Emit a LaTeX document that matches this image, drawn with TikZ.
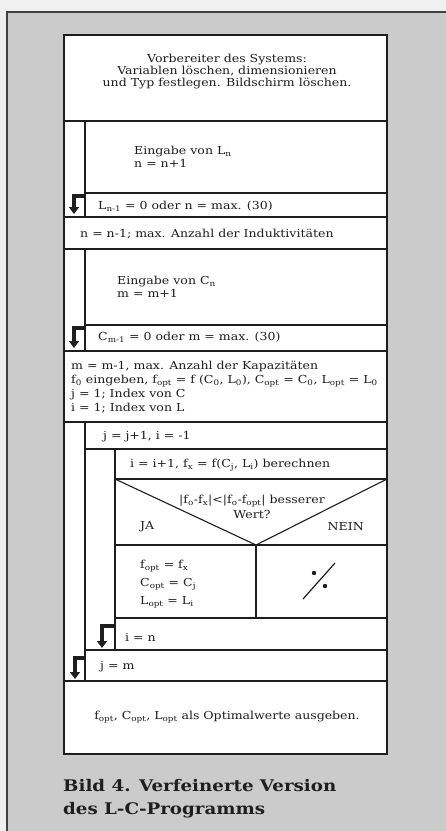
\documentclass[tikz,border=0pt]{standalone}
\usepackage{fontspec}
\setmainfont{DejaVu Serif}[FakeStretch=1.14]
\usetikzlibrary{arrows.meta}
\definecolor{paper}{RGB}{203,203,203}
\definecolor{ink}{RGB}{30,30,30}
\newcommand{\ix}[1]{\textsubscript{#1}}
\tikzset{
  cell/.style={draw=ink, line width=1.1pt},
  txt/.style={anchor=west, inner sep=0pt, text=ink, align=left,
    font=\fontsize{11}{12}\selectfont},
  repeatarrow/.style={draw=ink, line width=3.6pt, -{Triangle[length=7pt,width=10pt]}},
}
\begin{document}
\begin{tikzpicture}[x=1pt,y=-1pt]
  \useasboundingbox (0,0) rectangle (446,831);
  \fill[white!94!black] (0,0) rectangle (446,831);
  \fill[paper] (7,12) rectangle (446,831);
  \draw[ink!85, line width=1.4pt] (7,831) -- (7,12) -- (446,12);
  % Struktogramm
  \fill[white] (64,35) rectangle (387,754);
  \foreach \y/\a in {121/64, 193/85, 217/64, 249/64, 325/85, 351/64, 422/64,
                     449/85, 479/115, 545/115, 618/115, 650/85, 681/64}
    \draw[cell] (\a,\y) -- (387,\y);
  \foreach \t/\b/\x in {121/217/85, 249/351/85, 422/681/85, 449/650/115, 545/618/256}
    \draw[cell] (\x,\t) -- (\x,\b);
  \draw[cell] (115,479) -- (256,545) -- (387,479);
  \draw[ink, line width=1.8pt] (64,35) rectangle (387,754);
  % Texte
  \node[txt, anchor=center, align=center] (init) at (227,72)
    {Vorbereiter des Systems:\\Variablen löschen, dimensionieren\\und Typ festlegen. Bildschirm löschen.};
  \node[txt, font=\fontsize{11}{13}\selectfont] (inL) at (134,157) {Eingabe von L\ix{n}\\n = n+1};
  \node[txt] (untilL) at (98,206) {L\ix{n-1} = 0 oder n = max. (30)};
  \node[txt] (nL) at (80,234) {n = n-1; max. Anzahl der Induktivitäten};
  \node[txt, font=\fontsize{11}{13}\selectfont] (inC) at (117,287) {Eingabe von C\ix{n}\\m = m+1};
  \node[txt] (untilC) at (98,337) {C\ix{m-1} = 0 oder m = max. (30)};
  \node[txt, font=\fontsize{11}{14}\selectfont] (setup) at (71,387)
    {m = m-1, max. Anzahl der Kapazitäten\\
     f\ix{0} eingeben, f\ix{opt} = f (C\ix{0}, L\ix{0}), C\ix{opt} = C\ix{0}, L\ix{opt} = L\ix{0}\\
     j = 1; Index von C\\i = 1; Index von L};
  \node[txt] (jinc) at (103,437) {j = j+1, i = -1};
  \node[txt] (iinc) at (130,465) {i = i+1, f\ix{x} = f(C\ix{j}, L\ix{i}) berechnen};
  \node[txt, anchor=center, align=center, font=\fontsize{11}{15}\selectfont] (cond) at (252,507)
    {|f\ix{o}-f\ix{x}|<|f\ix{o}-f\ix{opt}| besserer\\Wert?};
  \node[txt] (ja) at (140,527) {JA};
  \node[txt, anchor=east] (nein) at (364,527) {NEIN};
  \node[txt, font=\fontsize{11}{18}\selectfont] (assign) at (140,584)
    {f\ix{opt} = f\ix{x}\\C\ix{opt} = C\ix{j}\\L\ix{opt} = L\ix{i}};
  \node[txt] (iend) at (125,637) {i = n};
  \node[txt] (jend) at (100,667) {j = m};
  \node[txt, anchor=center] (output) at (227,717) {f\ix{opt}, C\ix{opt}, L\ix{opt} als Optimalwerte ausgeben.};
  % ./. (leer)
  \draw[ink, line width=1.2pt] (303,599) -- (335,563);
  \fill[ink] (314,573) circle (2.2) (325,586) circle (2.2);
  % Wiederholungspfeile
  \coordinate (rL) at (86,196);  \coordinate (rLe) at (74,214);
  \coordinate (rC) at (86,328);  \coordinate (rCe) at (74,348);
  \coordinate (rI) at (116,626); \coordinate (rIe) at (102,648);
  \coordinate (rJ) at (86,658);  \coordinate (rJe) at (75,679);
  \foreach \s in {L,C,I,J}
    \draw[repeatarrow] (r\s) -| (r\s e);
  % Bildunterschrift
  \node[txt, font=\bfseries\fontsize{16}{23}\selectfont] (caption) at (63,799)
    {Bild 4. Verfeinerte Version\\des L-C-Programms};
\end{tikzpicture}
\end{document}
